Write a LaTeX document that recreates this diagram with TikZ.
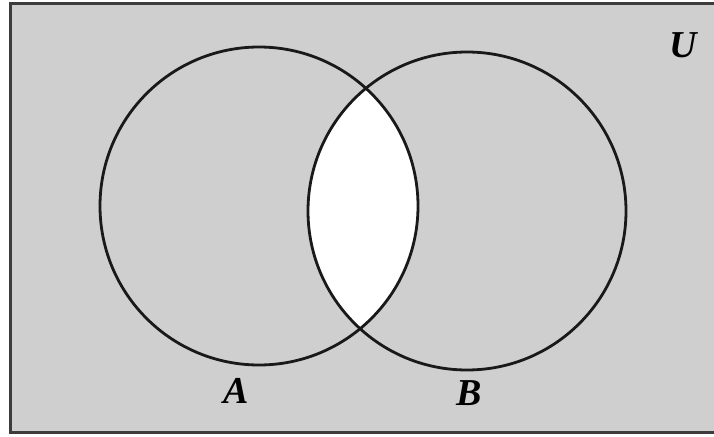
\documentclass[tikz,border=0pt]{standalone}
\usepackage{fontspec}
\setmainfont{Liberation Serif}
\definecolor{ugray}{RGB}{207,207,207}
\definecolor{frame}{RGB}{60,60,60}
\tikzset{
  setline/.style={draw=black!90, line width=2.8pt},
  setlabel/.style={font=\fontsize{38}{38}\selectfont\bfseries\itshape, inner sep=0pt},
}
\begin{document}
\begin{tikzpicture}[x=1pt,y=-1pt]
\useasboundingbox (0,0) rectangle (714,436);
\begin{scope}
\clip (0,0) rectangle (714,436);
\fill[ugray] (10,4) rectangle (730,432);
\draw[frame, line width=3pt] (730,4) -- (10,4) -- (10,432) -- (730,432);
\end{scope}
\coordinate (cA) at (259,206);
\coordinate (cB) at (467,211);
\begin{scope}
\clip (cA) circle (159);
\fill[white] (cB) circle (159);
\end{scope}
\draw[setline] (cA) circle (159);
\draw[setline] (cB) circle (159);
\node[setlabel] (A) at (236,391) {A};
\node[setlabel] (B) at (469,393) {B};
\node[setlabel] (U) at (683,45) {U};
\end{tikzpicture}
\end{document}
